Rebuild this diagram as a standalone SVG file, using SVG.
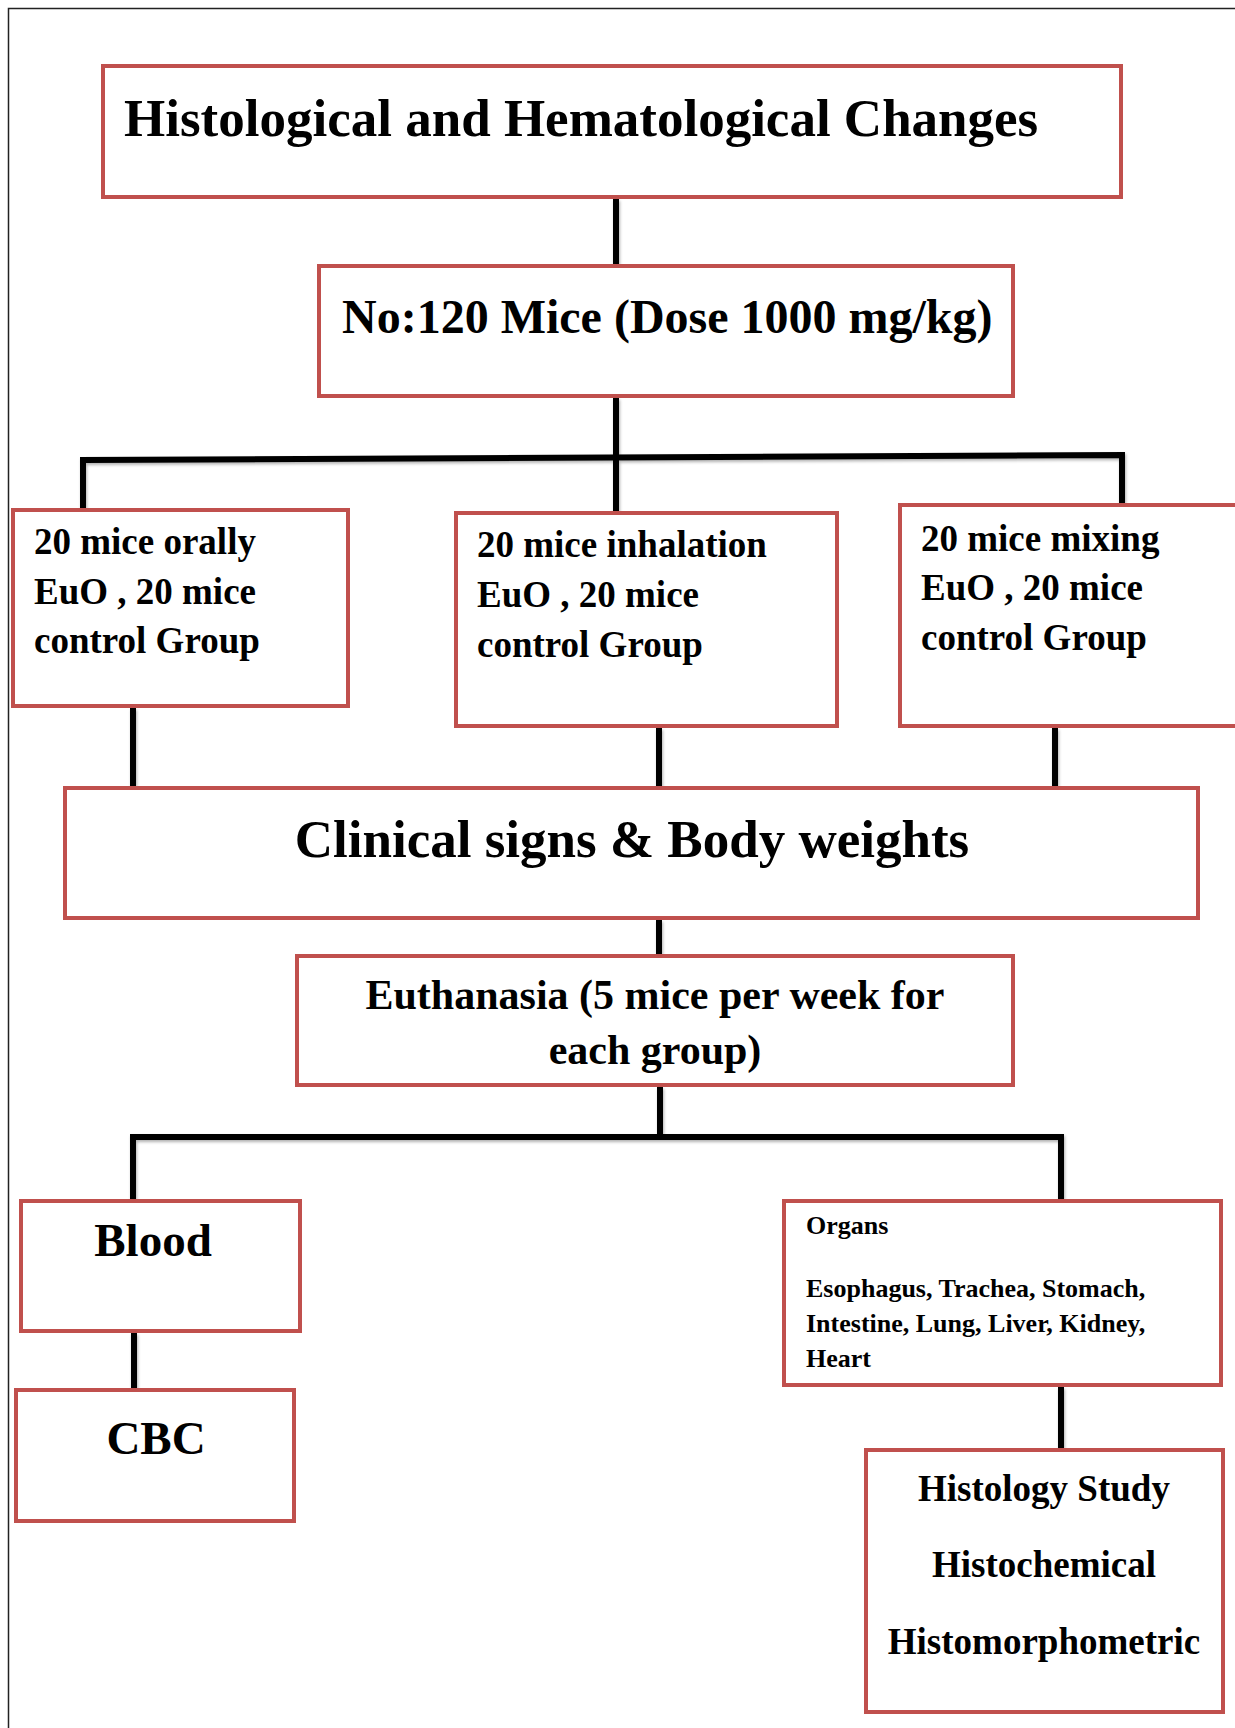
<svg xmlns="http://www.w3.org/2000/svg" width="1235" height="1728" viewBox="0 0 1235 1728">
<defs>
<filter id="sh" x="-20%" y="-20%" width="140%" height="140%">
<feDropShadow dx="1" dy="2" stdDeviation="1.5" flood-color="#000" flood-opacity="0.3"/>
</filter>
</defs>
<style>
.box{fill:#fff;stroke:#C0504D;stroke-width:4}
.t{font-family:"Liberation Serif","Times New Roman",serif;font-weight:bold;fill:#000}
.c{fill:none;stroke:#000;stroke-width:6;stroke-linecap:butt;stroke-linejoin:miter}
</style>
<rect width="1235" height="1728" fill="#fff"/>
<path d="M8.5 1728 V8.5 H1235" fill="none" stroke="#222" stroke-width="1.5"/>
<g id="connectors" filter="url(#sh)">
<path class="c" d="M616 199 V264"/>
<path class="c" d="M616 398 V511"/>
<path class="c" d="M83 508 V460 L1122 455 V503"/>
<path class="c" d="M133 708 V786"/>
<path class="c" d="M659 728 V786"/>
<path class="c" d="M1055 728 V786"/>
<path class="c" d="M659 920 V954"/>
<path class="c" d="M660 1087 V1137"/>
<path class="c" d="M133 1199 V1137 H1061 V1199"/>
<path class="c" d="M134 1333 V1388"/>
<path class="c" d="M1061 1387 V1448"/>
</g>
<g id="title">
<rect class="box" x="103" y="66" width="1018" height="131"/>
<text class="t" x="124" y="136" font-size="53">Histological and Hematological Changes</text>
</g>
<g id="mice">
<rect class="box" x="319" y="266" width="694" height="130"/>
<text class="t" x="342" y="333" font-size="48">No:120 Mice (Dose 1000 mg/kg)</text>
</g>
<g id="orally">
<rect class="box" x="13" y="510" width="335" height="196"/>
<text class="t" font-size="37"><tspan x="34" y="554">20 mice orally</tspan><tspan x="34" y="604">EuO , 20 mice</tspan><tspan x="34" y="653">control Group</tspan></text>
</g>
<g id="inhalation">
<rect class="box" x="456" y="513" width="381" height="213"/>
<text class="t" font-size="37"><tspan x="477" y="557">20 mice inhalation</tspan><tspan x="477" y="607">EuO , 20 mice</tspan><tspan x="477" y="657">control Group</tspan></text>
</g>
<g id="mixing">
<rect class="box" x="900" y="505" width="345" height="221"/>
<text class="t" font-size="37"><tspan x="921" y="551">20 mice mixing</tspan><tspan x="921" y="600">EuO , 20 mice</tspan><tspan x="921" y="650">control Group</tspan></text>
</g>
<g id="clinical">
<rect class="box" x="65" y="788" width="1133" height="130"/>
<text class="t" x="632" y="857" font-size="53" text-anchor="middle">Clinical signs &amp; Body weights</text>
</g>
<g id="euthanasia">
<rect class="box" x="297" y="956" width="716" height="129"/>
<text class="t" font-size="42" text-anchor="middle"><tspan x="655" y="1009">Euthanasia (5 mice per week for</tspan><tspan x="655" y="1064">each group)</tspan></text>
</g>
<g id="blood">
<rect class="box" x="21" y="1201" width="279" height="130"/>
<text class="t" x="153" y="1256" font-size="47" text-anchor="middle">Blood</text>
</g>
<g id="cbc">
<rect class="box" x="16" y="1390" width="278" height="131"/>
<text class="t" x="156" y="1454" font-size="47" text-anchor="middle">CBC</text>
</g>
<g id="organs">
<rect class="box" x="784" y="1201" width="437" height="184"/>
<text class="t" font-size="26"><tspan x="806" y="1234">Organs</tspan><tspan x="806" y="1297">Esophagus, Trachea, Stomach,</tspan><tspan x="806" y="1332">Intestine, Lung, Liver, Kidney,</tspan><tspan x="806" y="1367">Heart</tspan></text>
</g>
<g id="histology">
<rect class="box" x="866" y="1450" width="357" height="262"/>
<text class="t" font-size="37" text-anchor="middle"><tspan x="1044" y="1501">Histology Study</tspan><tspan x="1044" y="1577">Histochemical</tspan><tspan x="1044" y="1654">Histomorphometric</tspan></text>
</g>
</svg>
